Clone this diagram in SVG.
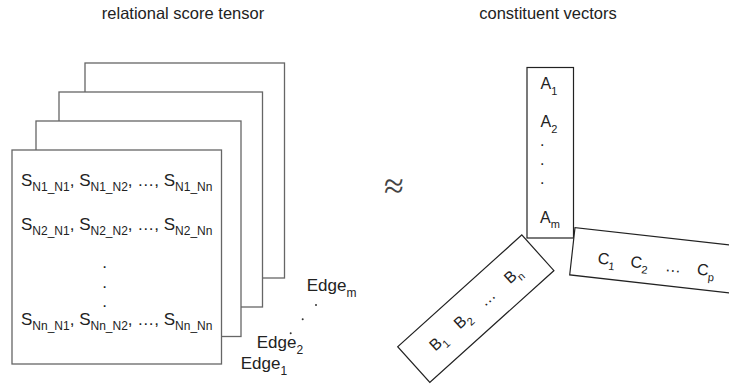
<svg xmlns="http://www.w3.org/2000/svg" width="729" height="385" viewBox="0 0 729 385">
  <style>
    .t { font-family: "Liberation Sans", Arial, sans-serif; fill: #222; }
    .title { font-size: 16.5px; text-anchor: middle; fill: #222; }
    .big { font-size: 17px; }
    .sub { font-size: 12px; }
    .v { font-size: 16px; }
    .vs { font-size: 11px; }
    .sheet { fill: #fff; stroke: #666; stroke-width: 1.3; }
    .box { fill: #fff; stroke: #222; stroke-width: 1.2; }
    .dot { fill: #333; }
    .approx { font-family: "Liberation Serif", "Times New Roman", serif; font-size: 36px; fill: #444; text-anchor: middle; }
  </style>

  <g id="title-left"><text class="t title" x="183" y="19">relational score tensor</text></g>
  <g id="title-right"><text class="t title" x="548" y="19">constituent vectors</text></g>

  <g id="tensor">
    <rect class="sheet" x="85" y="63" width="199.5" height="215"/>
    <rect class="sheet" x="59" y="92" width="203.5" height="215"/>
    <rect class="sheet" x="36" y="121" width="205" height="215.5"/>
    <rect class="sheet" x="12" y="150" width="209.5" height="214"/>
    <text class="t big" x="21" y="186">S<tspan class="sub" dy="5">N1_N1</tspan><tspan dy="-5">, S</tspan><tspan class="sub" dy="5">N1_N2</tspan><tspan dy="-5">, …, S</tspan><tspan class="sub" dy="5">N1_Nn</tspan></text>
    <text class="t big" x="21" y="230">S<tspan class="sub" dy="5">N2_N1</tspan><tspan dy="-5">, S</tspan><tspan class="sub" dy="5">N2_N2</tspan><tspan dy="-5">, …, S</tspan><tspan class="sub" dy="5">N2_Nn</tspan></text>
    <text class="t big" x="102.3" y="268">.</text>
    <text class="t big" x="102.3" y="288">.</text>
    <text class="t big" x="102.3" y="307">.</text>
    <text class="t big" x="21" y="325">S<tspan class="sub" dy="5">Nn_N1</tspan><tspan dy="-5">, S</tspan><tspan class="sub" dy="5">Nn_N2</tspan><tspan dy="-5">, …, S</tspan><tspan class="sub" dy="5">Nn_Nn</tspan></text>
  </g>

  <g id="edge-labels">
    <text class="t big" x="306.7" y="291">Edge<tspan class="sub" dy="6">m</tspan></text>
    <circle class="dot" cx="316" cy="305" r="1"/>
    <circle class="dot" cx="302.7" cy="319.3" r="1"/>
    <circle class="dot" cx="290.7" cy="333.3" r="1"/>
    <text class="t big" x="256.7" y="348.3">Edge<tspan class="sub" dy="6">2</tspan></text>
    <text class="t big" x="240.7" y="369.3">Edge<tspan class="sub" dy="6">1</tspan></text>
  </g>

  <g id="approx"><text class="approx" x="394" y="198">≈</text></g>

  <g id="vector-a">
    <rect class="box" x="527" y="67.5" width="46.5" height="170.5"/>
    <text class="t v" x="540.5" y="88.5">A<tspan class="vs" dy="6">1</tspan></text>
    <text class="t v" x="540.5" y="126.7">A<tspan class="vs" dy="6">2</tspan></text>
    <text class="t v" x="540" y="146.2">.</text>
    <text class="t v" x="540" y="165.2">.</text>
    <text class="t v" x="540" y="184">.</text>
    <text class="t v" x="540" y="223.3">A<tspan class="vs" dy="5">m</tspan></text>
  </g>

  <g id="vector-b" transform="translate(397.7,346.7) rotate(-42)">
    <rect class="box" x="0" y="0" width="167" height="48"/>
    <text class="t v" x="24.5" y="29">B<tspan class="vs" dy="5">1</tspan></text>
    <text class="t v" x="57.5" y="29">B<tspan class="vs" dy="5">2</tspan></text>
    <text class="t v" x="91" y="29">…</text>
    <text class="t v" x="125" y="29">B<tspan class="vs" dy="5">n</tspan></text>
  </g>

  <g id="vector-c" transform="translate(575,227.7) rotate(6.4)">
    <rect class="box" x="0" y="0" width="220" height="47.5"/>
    <text class="t v" x="26" y="33">C<tspan class="vs" dy="5">1</tspan></text>
    <text class="t v" x="59" y="33">C<tspan class="vs" dy="5">2</tspan></text>
    <text class="t v" x="94" y="33">…</text>
    <text class="t v" x="126" y="33">C<tspan class="vs" dy="5">p</tspan></text>
  </g>

  <g id="connectors"/>
</svg>
